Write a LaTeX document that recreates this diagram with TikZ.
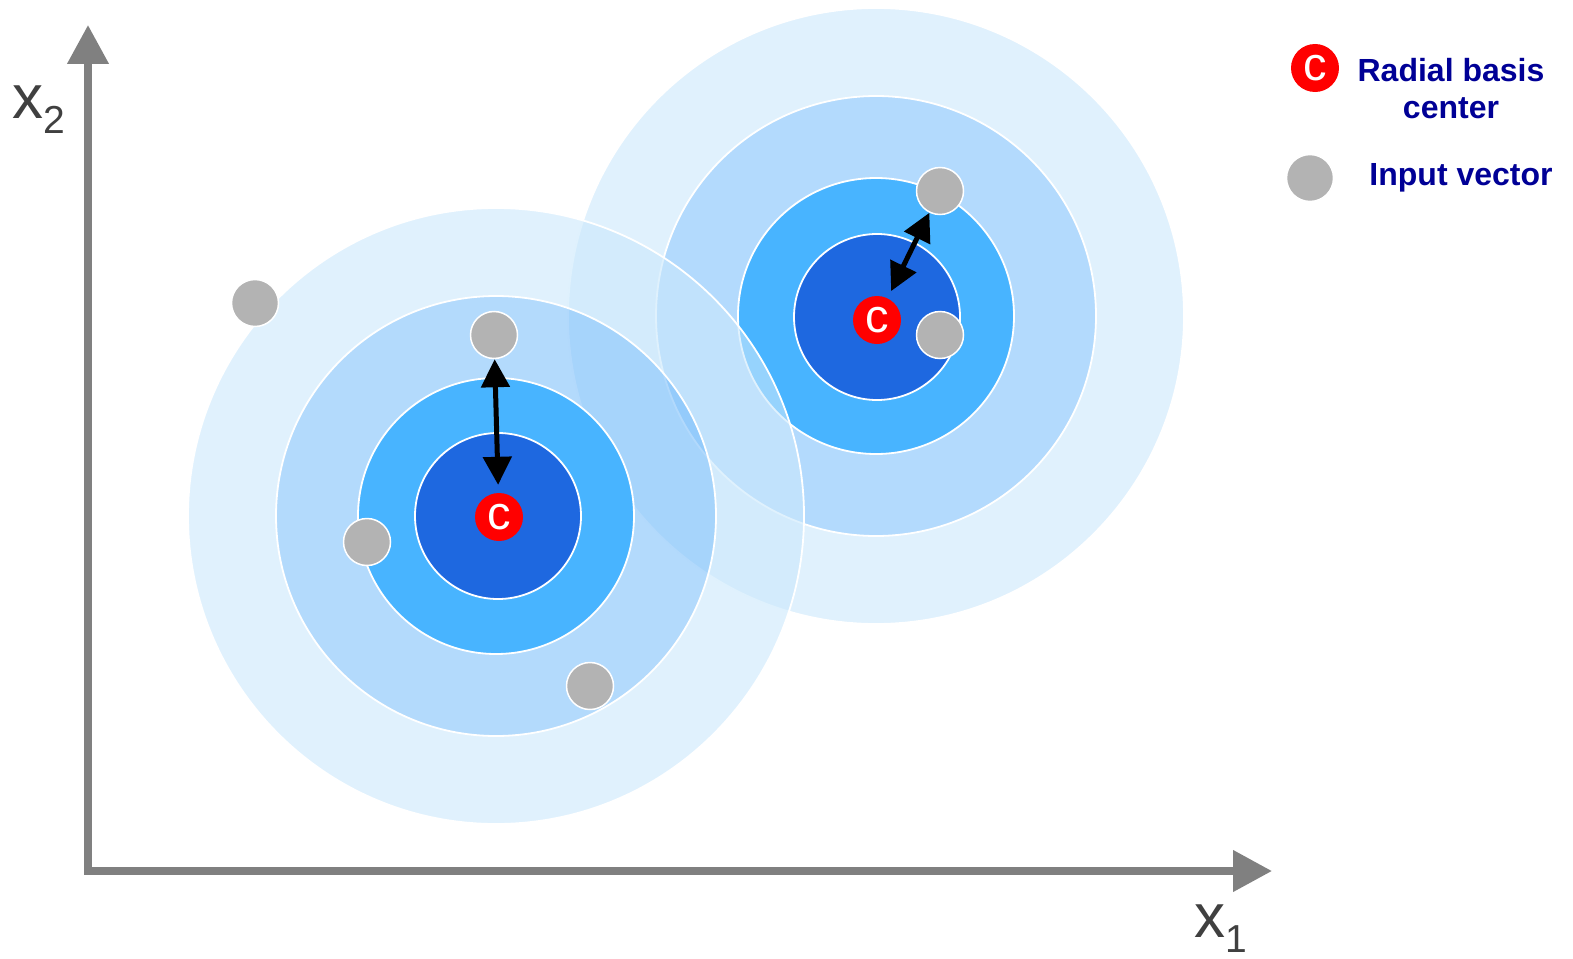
\documentclass[tikz,border=0pt]{standalone}
\usepackage{fontspec}
\setmainfont{Liberation Sans}
\usetikzlibrary{arrows.meta, positioning}

\definecolor{ringdark}{RGB}{30,104,224}
\definecolor{ringmid}{RGB}{72,180,255}
\definecolor{ringlight}{RGB}{179,218,253}
\definecolor{ringpale}{RGB}{224,241,253}
\definecolor{ringlightT}{RGB}{128,193,250}
\definecolor{ringpaleT}{RGB}{203,232,252}
\definecolor{axisgray}{RGB}{128,128,128}
\definecolor{dotgray}{RGB}{179,179,179}
\definecolor{legendblue}{RGB}{0,0,150}
\definecolor{labelgray}{RGB}{64,64,64}

\begin{document}
\begin{tikzpicture}[
    x=1pt, y=-1pt,
    center/.style={circle, fill=red, text=white, minimum size=48pt, inner sep=0pt, font=\fontsize{47}{47}\selectfont},
    input/.style={circle, fill=dotgray, draw=white, line width=1.5pt, minimum size=47pt, inner sep=0pt},
    ring/.style={draw=white, line width=1.8pt},
    axis/.style={draw=axisgray, line width=7.5pt, {Triangle[length=39pt,width=40pt]}-{Triangle[length=39pt,width=40pt]}},
    dist/.style={line width=5pt, {Triangle[length=28pt,width=28pt]}-{Triangle[length=28pt,width=28pt]}, shorten >=8pt},
    legend/.style={text=legendblue, inner sep=0pt, align=center, font=\bfseries\fontsize{32}{37}\selectfont},
    axislabel/.style={text=labelgray, inner sep=0pt, anchor=base west, font=\fontsize{62}{62}\selectfont}
]
    \useasboundingbox (0,0) rectangle (1573,958);

    % Right basis function
    \fill[ringpale] (876,316) circle[radius=308pt];
    \fill[ringlight] (876,316) circle[radius=220pt];
    \fill[ringmid] (876,316) circle[radius=138pt];
    \fill[ringdark] (877,317) circle[radius=83pt];
    \foreach \r in {308,220,138} \draw[ring] (876,316) circle[radius=\r pt];
    \draw[ring] (877,317) circle[radius=83pt];

    % Left basis function
    \fill[ringpaleT, fill opacity=0.6, even odd rule] (496,516) circle[radius=308pt] (496,516) circle[radius=220pt];
    \fill[ringlightT, fill opacity=0.6, even odd rule] (496,516) circle[radius=220pt] (496,516) circle[radius=138pt];
    \fill[ringmid] (496,516) circle[radius=138pt];
    \fill[ringdark] (498,516) circle[radius=83pt];
    \foreach \r in {308,220,138} \draw[ring] (496,516) circle[radius=\r pt];
    \draw[ring] (498,516) circle[radius=83pt];

    % Axes
    \coordinate (origin) at (88,871);
    \coordinate (xtip) at (1272,871);
    \coordinate (ytip) at (88,25);
    \draw[axis] (xtip) -- (origin) -- (ytip);
    \node[axislabel] (xtwo) at (12,118) {x\raisebox{-15pt}{\fontsize{39}{39}\selectfont 2}};
    \node[axislabel] (xone) at (1194,937) {x\raisebox{-15pt}{\fontsize{39}{39}\selectfont 1}};

    % Nodes
    \node[center] (cleft) at (499,517) {c};
    \node[center] (cright) at (877,320) {c};
    \node[input] (vone) at (255,303) {};
    \node[input] (vtwo) at (494,335) {};
    \node[input] (vthree) at (367,542) {};
    \node[input] (vfour) at (590,686) {};
    \node[input] (vfive) at (940,191) {};
    \node[input] (vsix) at (940,335) {};

    % Distances
    \draw[dist] (vtwo) -- (cleft);
    \draw[dist] (vfive) -- (cright);

    % Legend
    \node[center] (legc) at (1315,68) {c};
    \node[legend] (legctext) at (1451,89) {Radial basis\\center};
    \node[input] (legv) at (1310,178) {};
    \node[legend, right=35pt of legv] (legvtext) {Input vector};
\end{tikzpicture}
\end{document}
